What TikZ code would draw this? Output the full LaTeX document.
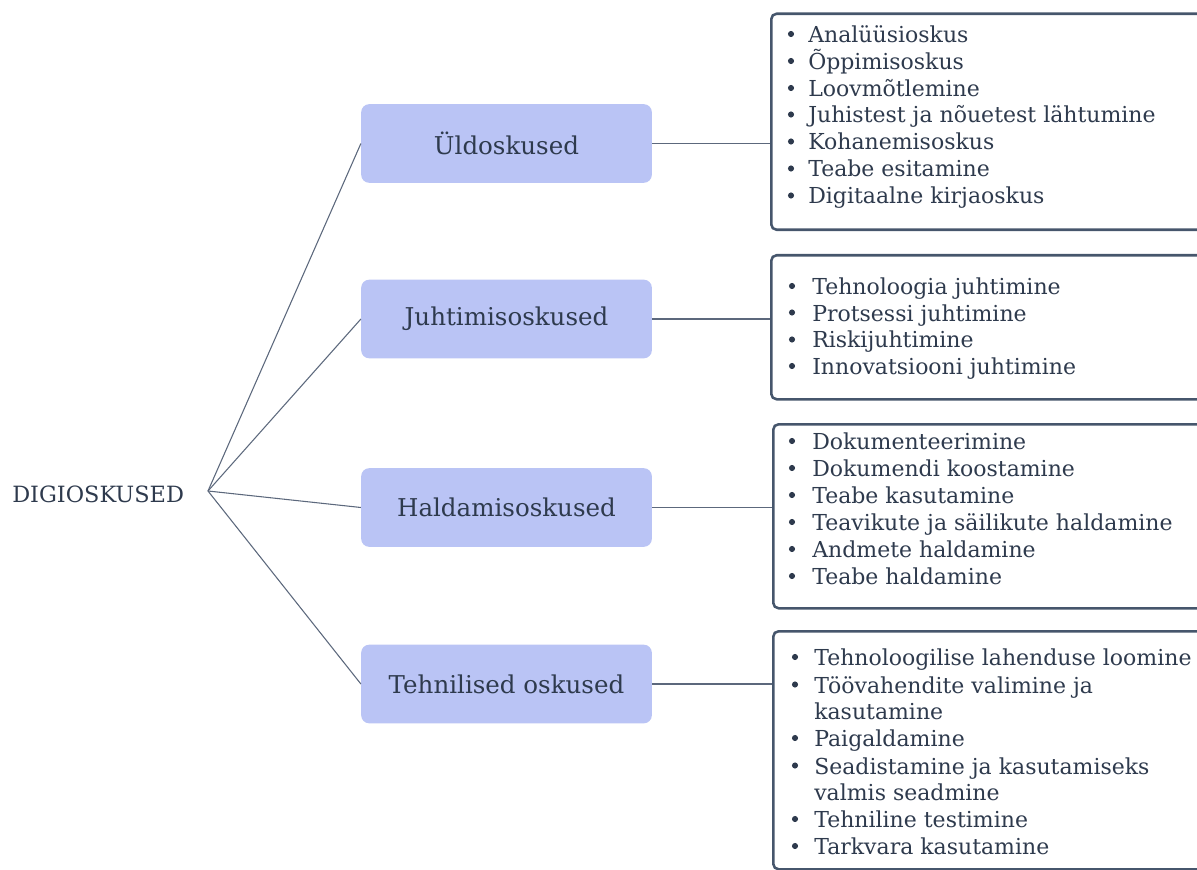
\documentclass[tikz,border=0pt]{standalone}
\usepackage{fontspec}
\setmainfont{DejaVu Serif}
\definecolor{ink}{HTML}{2E3A4D}
\definecolor{skillfill}{HTML}{BAC4F5}
\definecolor{frame}{HTML}{46566C}
\definecolor{wire}{HTML}{5C687C}
\begin{document}
\begin{tikzpicture}[x=0.75pt,y=-0.75pt,
  skill/.style={fill=skillfill, rounded corners=6pt, minimum width=218pt, minimum height=59pt,
    inner sep=0pt, text=ink, font=\fontsize{18.4}{21}\selectfont},
  listbox/.style={draw=frame, line width=1.9pt, rounded corners=4pt, minimum width=352pt,
    inner sep=0pt, anchor=north west},
  item/.style={text=ink, inner sep=0pt, anchor=base west, font=\fontsize{16.5}{19}\selectfont},
  dot/.style={circle, fill=ink, inner sep=0pt, minimum size=4.6pt},
  wireline/.style={draw=wire, line width=0.8pt}]
\useasboundingbox (0,0) rectangle (1197,870);

% root label and the point where the branches meet
\node[text=ink, anchor=base west, inner sep=0pt, font=\fontsize{16.8}{20}\selectfont] (root) at (12,502) {DIGIOSKUSED};
\coordinate (hub) at (208,491);

% skill groups
\node[skill] (g1) at (506.5,143.5) {Üldoskused};
\node[skill] (g2) at (506.5,319) {Juhtimisoskused};
\node[skill] (g3) at (506.5,507.5) {Haldamisoskused};
\node[skill] (g4) at (506.5,684) {Tehnilised oskused};

% framed lists
\node[listbox, minimum height=162pt] (L1) at (770,12.5) {};
\node[listbox, minimum height=108pt] (L2) at (770,254) {};
\node[listbox, minimum height=138pt] (L3) at (772,423) {};
\node[listbox, minimum height=178.5pt] (L4) at (772,630) {};

% connectors
\foreach \g in {g1,g2,g3,g4}
  \draw[wireline] (hub) -- (\g.west);
\draw[wireline] (g1.east) -- (g1.east -| L1.west);
\draw[wireline] (g2.east) -- (g2.east -| L2.west);
\draw[wireline] (g3.east) -- (g3.east -| L3.west);
\draw[wireline] (g4.east) -- (g4.east -| L4.west);

% list entries: baseline / bullet flag / text
\foreach \y/\b/\t [count=\i] in {
  42.5/1/Analüüsioskus, 69.5/1/Õppimisoskus, 96.5/1/Loovmõtlemine,
  123/1/Juhistest ja nõuetest lähtumine, 150/1/Kohanemisoskus,
  177/1/Teabe esitamine, 204/1/Digitaalne kirjaoskus}{
  \node[item] (a\i) at (808,\y) {\t};
  \ifnum\b=1 \node[dot] (ad\i) at (791,\y-8.5) {};\fi
}
\foreach \y/\b/\t [count=\i] in {
  294.5/1/Tehnoloogia juhtimine, 321/1/Protsessi juhtimine,
  348/1/Riskijuhtimine, 374.5/1/Innovatsiooni juhtimine}{
  \node[item] (b\i) at (812,\y) {\t};
  \ifnum\b=1 \node[dot] (bd\i) at (792,\y-8.5) {};\fi
}
\foreach \y/\b/\t [count=\i] in {
  449.5/1/Dokumenteerimine, 476.5/1/Dokumendi koostamine,
  503.5/1/Teabe kasutamine, 530.5/1/Teavikute ja säilikute haldamine,
  557.5/1/Andmete haldamine, 584.5/1/Teabe haldamine}{
  \node[item] (c\i) at (812,\y) {\t};
  \ifnum\b=1 \node[dot] (cd\i) at (792,\y-8.5) {};\fi
}
\foreach \y/\b/\t [count=\i] in {
  665.5/1/Tehnoloogilise lahenduse loomine, 693/1/Töövahendite valimine ja,
  719.5/0/kasutamine, 746.5/1/Paigaldamine,
  774/1/Seadistamine ja kasutamiseks, 800.5/0/valmis seadmine,
  827.5/1/Tehniline testimine, 854.5/1/Tarkvara kasutamine}{
  \node[item] (d\i) at (814,\y) {\t};
  \ifnum\b=1 \node[dot] (dd\i) at (795,\y-8.5) {};\fi
}
\end{tikzpicture}
\end{document}
